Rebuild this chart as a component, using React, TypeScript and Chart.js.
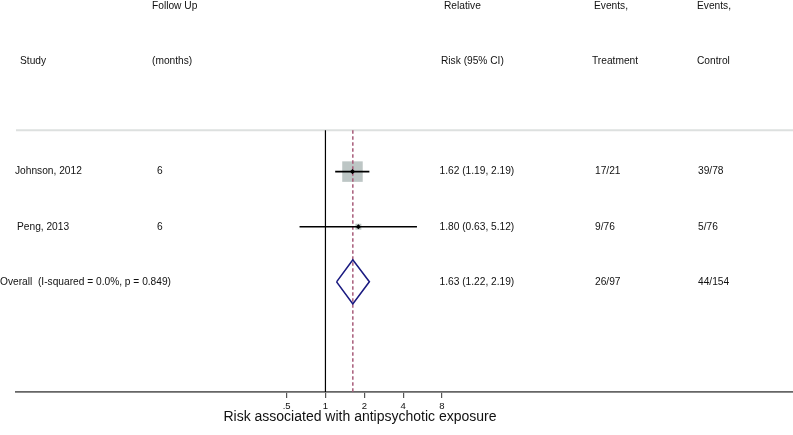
import React, { useEffect, useRef } from "react";
import { Chart, registerables } from "chart.js";

Chart.register(...registerables);

// ---- data ----
const headerTop = ["", "Follow Up", "Relative", "Events,", "Events,"];
const headerBottom = ["Study", "(months)", "Risk (95% CI)", "Treatment", "Control"];
const studies = ["Johnson, 2012", "Peng, 2013"];
const followUp = ["6", "6"];
const rr = [1.62, 1.8];
const rrLow = [1.19, 0.63];
const rrHigh = [2.19, 5.12];
const weights = [92.2, 7.8];
const eventsTreatment = ["17/21", "9/76"];
const eventsControl = ["39/78", "5/76"];
const overallLabel = "Overall  (I-squared = 0.0%, p = 0.849)";
const overallRR = 1.63;
const overallLow = 1.22;
const overallHigh = 2.19;
const overallTreatment = "26/97";
const overallControl = "44/154";
const nullValue = 1;
const tickValues = [0.5, 1, 2, 4, 8];
const tickLabels = [".5", "1", "2", "4", "8"];
const axisTitle = "Risk associated with antipsychotic exposure";

// ---- layout (row indices on y scale, pixel x for text columns) ----
const ROW_HEAD1 = 0;
const ROW_HEAD2 = 1;
const ROW_SEP = 2.25;
const ROW_FIRST = 3;
const ROW_AXIS = 7;
const headTopX = [0, 152, 444, 594, 697];
const headBottomX = [20, 152, 441, 592, 697];
const studyX = [15, 17];
const overallX = 0;
const colX = { follow: 157, rr: 439.5, treat: 595, ctrl: 698 };
const FONT = '"Liberation Sans", Arial, sans-serif';

const fmt = (e: number, l: number, h: number) =>
  `${e.toFixed(2)} (${l.toFixed(2)}, ${h.toFixed(2)})`;

const textPlugin = {
  id: "forestText",
  afterDraw(chart: any) {
    const ctx = chart.ctx;
    const y = chart.scales.y;
    const area = chart.chartArea;
    ctx.save();
    ctx.fillStyle = "#111";
    ctx.font = `10.2px ${FONT}`;
    ctx.textAlign = "left";
    ctx.textBaseline = "middle";
    const put = (t: string, x: number, row: number) => ctx.fillText(t, x, y.getPixelForValue(row));
    headerTop.forEach((t, k) => t && put(t, headTopX[k], ROW_HEAD1));
    headerBottom.forEach((t, k) => put(t, headBottomX[k], ROW_HEAD2));
    studies.forEach((s, k) => {
      const r = ROW_FIRST + k;
      put(s, studyX[k], r);
      put(followUp[k], colX.follow, r);
      put(fmt(rr[k], rrLow[k], rrHigh[k]), colX.rr, r);
      put(eventsTreatment[k], colX.treat, r);
      put(eventsControl[k], colX.ctrl, r);
    });
    const ro = ROW_FIRST + studies.length;
    put(overallLabel, overallX, ro);
    put(fmt(overallRR, overallLow, overallHigh), colX.rr, ro);
    put(overallTreatment, colX.treat, ro);
    put(overallControl, colX.ctrl, ro);
    // axis title
    ctx.font = `14px ${FONT}`;
    ctx.textAlign = "center";
    ctx.fillStyle = "#111";
    ctx.fillText(axisTitle, 360, area.bottom + 25);
    ctx.restore();
  },
};

export default function App() {
  const ref = useRef<HTMLCanvasElement | null>(null);
  useEffect(() => {
    if (!ref.current) return;
    const ovRow = ROW_FIRST + studies.length;
    const half = 0.4;
    const datasets: any[] = [];
    datasets.push({
      data: [{ x: 0.004, y: ROW_SEP }, { x: 4200, y: ROW_SEP }],
      showLine: true, pointRadius: 0, borderColor: "#dde0df", borderWidth: 2, order: 6,
    });
    datasets.push({
      data: [{ x: nullValue, y: ROW_SEP }, { x: nullValue, y: ROW_AXIS }],
      showLine: true, pointRadius: 0, borderColor: "#000", borderWidth: 1.2, order: 5,
    });
    datasets.push({
      data: [{ x: overallRR, y: ROW_SEP }, { x: overallRR, y: ROW_AXIS }],
      showLine: true, pointRadius: 0, borderColor: "rgb(168,92,122)", borderWidth: 1.5,
      borderDash: [3.5, 2.5], order: 3,
    });
    datasets.push({
      data: rr.map((v, k) => ({ x: v, y: ROW_FIRST + k })),
      showLine: false, pointStyle: "rect",
      pointRadius: weights.map((w) => 1.51 * Math.sqrt(w)),
      backgroundColor: "#bdc6c5", borderColor: "#bdc6c5", borderWidth: 0, order: 4,
    });
    rr.forEach((_, k) => {
      datasets.push({
        data: [{ x: rrLow[k], y: ROW_FIRST + k }, { x: rrHigh[k], y: ROW_FIRST + k }],
        showLine: true, pointRadius: 0, borderColor: "#000", borderWidth: 1.6, order: 1,
      });
    });
    datasets.push({
      data: rr.map((v, k) => ({ x: v, y: ROW_FIRST + k })),
      showLine: false, pointStyle: "rectRot", pointRadius: 2.6,
      backgroundColor: "#000", borderColor: "#000", borderWidth: 0, order: 0,
    });
    datasets.push({
      data: [
        { x: overallLow, y: ovRow },
        { x: overallRR, y: ovRow - half },
        { x: overallHigh, y: ovRow },
        { x: overallRR, y: ovRow + half },
        { x: overallLow, y: ovRow },
      ],
      showLine: true, pointRadius: 0, borderColor: "#1a1a80", borderWidth: 1.6, order: 2,
      tension: 0,
    });

    const chart = new Chart(ref.current, {
      type: "scatter",
      data: { datasets },
      options: {
        animation: false,
        responsive: false,
        devicePixelRatio: 1,
        layout: { autoPadding: false, padding: { left: 16, right: 0, top: 0, bottom: 19.5 } },
        plugins: { legend: { display: false }, tooltip: { enabled: false }, title: { display: false } },
        elements: { line: { borderCapStyle: "butt", borderJoinStyle: "miter" } },
        scales: {
          x: {
            type: "logarithmic",
            min: 0.004,
            max: 4200,
            afterBuildTicks: (scale: any) => {
              scale.ticks = tickValues.map((v) => ({ value: v }));
            },
            ticks: {
              autoSkip: false,
              maxRotation: 0,
              padding: 3,
              color: "#111",
              font: { family: FONT, size: 9.5 },
              callback: (_v: any, i: number) => tickLabels[i],
            },
            grid: { display: true, drawOnChartArea: false, drawTicks: true, tickLength: 6, color: "#555", lineWidth: 1.2 },
            border: { display: true, color: "#666", width: 1.7 },
          },
          y: {
            type: "linear",
            reverse: true,
            min: -0.113,
            max: ROW_AXIS,
            display: false,
          },
        },
      },
      plugins: [textPlugin],
    } as any);
    return () => chart.destroy();
  }, []);
  return (
    <div style={{ position: "absolute", left: 0, top: 0, width: 793, height: 435, background: "#fff" }}>
      <canvas ref={ref} width={793} height={435} style={{ width: 793, height: 435 }} />
    </div>
  );
}
